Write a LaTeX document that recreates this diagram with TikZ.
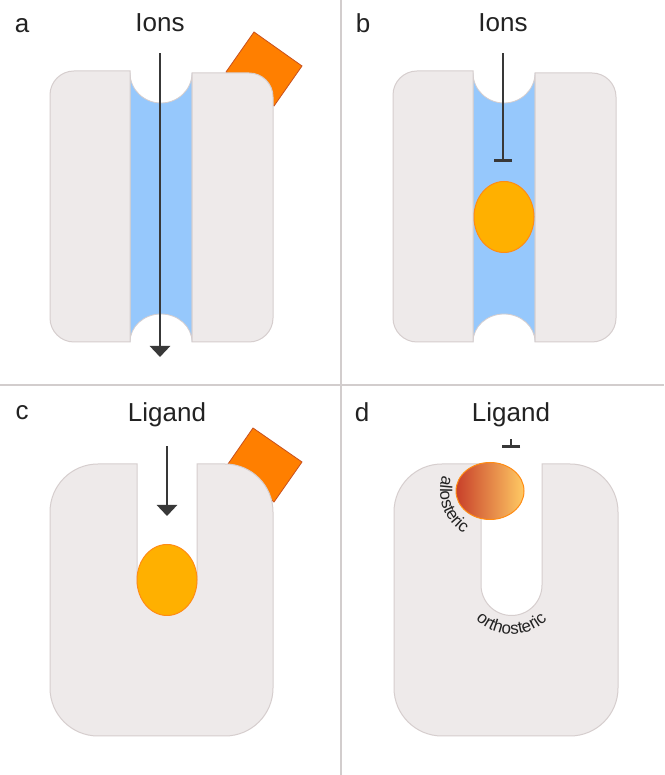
\documentclass[tikz,border=0pt]{standalone}
\usepackage{fontspec}
\setmainfont{Liberation Sans}
\usetikzlibrary{arrows.meta,shapes.geometric,decorations.text}

\definecolor{protein}{RGB}{238,234,234}
\definecolor{proteinedge}{RGB}{214,206,206}
\definecolor{poreblue}{RGB}{150,200,252}
\definecolor{drugorange}{RGB}{255,176,0}
\definecolor{drugedge}{RGB}{255,140,20}
\definecolor{tagorange}{RGB}{255,127,0}
\definecolor{tagedge}{RGB}{200,80,30}
\definecolor{allored}{RGB}{200,64,42}
\definecolor{alloyellow}{RGB}{255,202,100}
\definecolor{ink}{RGB}{34,34,34}
\definecolor{divider}{RGB}{210,205,205}

\begin{document}
\fontsize{17}{20}\selectfont
\begin{tikzpicture}[x=1pt,y=1pt,
  block/.style={fill=protein, draw=proteinedge, line width=1pt},
  channel/.style={fill=poreblue, draw=proteinedge, line width=0.8pt},
  tag/.style={fill=tagorange, draw=tagedge, line width=0.8pt},
  drug/.style={ellipse, fill=drugorange, draw=drugedge, line width=1pt, inner sep=0pt,
    minimum width=60pt, minimum height=71pt},
  lbl/.style={font=\fontsize{26}{30}\selectfont, text=ink, anchor=base},
  flow/.style={draw=ink!90, line width=2.8pt, -{Triangle[width=20pt,length=11pt]}},
  stop/.style={draw=ink!90, line width=2.8pt, -{Bar[width=18pt]}}]

\useasboundingbox (0,0) rectangle (664,775);
\fill[white] (0,0) rectangle (664,775);
\draw[divider, line width=1.5pt] (0,390) -- (664,390);
\draw[divider, line width=1.5pt] (341,0) -- (341,775);

% a
\node[lbl] (la) at (22,742) {a};
\node[lbl] (ionsa) at (160,743) {Ions};
\draw[tag] (254,743) -- (302,709) -- (274,669) -- (226,703) -- cycle;
\path[channel] (130,433) -- (130,702) arc (180:360:31 and 30) -- (192,433) arc (0:180:31 and 28) -- cycle;
\draw[block] (130,704) -- (74,704) arc (90:180:24) -- (50,457) arc (180:270:24) -- (130,433) -- cycle;
\draw[block] (192,702) -- (249,702) arc (90:0:24) -- (273,457) arc (0:-90:24) -- (192,433) -- cycle;
\coordinate (outa) at (160,418);
\draw[flow, shorten <=15pt] (ionsa) -- (outa);

% b
\begin{scope}[xshift=343pt]
\node[lbl] (lb) at (20,742) {b};
\node[lbl] (ionsb) at (160,743) {Ions};
\path[channel] (130,433) -- (130,702) arc (180:360:31 and 30) -- (192,433) arc (0:180:31 and 28) -- cycle;
\draw[block] (130,704) -- (74,704) arc (90:180:24) -- (50,457) arc (180:270:24) -- (130,433) -- cycle;
\draw[block] (192,702) -- (249,702) arc (90:0:24) -- (273,457) arc (0:-90:24) -- (192,433) -- cycle;
\node[drug] (drugb) at (161,558) {};
\coordinate (stopb) at (160,613);
\draw[stop, shorten <=15pt] (ionsb) -- (stopb);
\end{scope}

% c
\node[lbl] (lc) at (22,355) {c};
\node[lbl] (ligandc) at (167,353) {Ligand};
\draw[tag] (253,347) -- (302,313) -- (274,273) -- (228,311) -- cycle;
\draw[block] (137,311) -- (98,311) arc (90:180:48) -- (50,87) arc (180:270:48) -- (225,39)
  arc (270:360:48) -- (273,263) arc (0:90:48) -- (197,311) -- (197,195) arc (0:-180:30) -- cycle;
\node[drug] (drugc) at (167,195) {};
\coordinate (tipc) at (167,259);
\draw[flow, shorten <=13pt] (ligandc) -- (tipc);

% d
\node[lbl] (ld) at (362,353) {d};
\node[lbl] (ligandd) at (511,353) {Ligand};
\draw[block] (481,311) -- (442,311) arc (90:180:48) -- (394,87) arc (180:270:48) -- (570,39)
  arc (270:360:48) -- (618,263) arc (0:90:48) -- (542,311) -- (542,190) arc (0:-180:30.5) -- cycle;
\node[ellipse, inner sep=0pt, minimum width=68pt, minimum height=57pt, left color=allored,
  right color=alloyellow, draw=drugedge, line width=1pt] (allo) at (490,284) {};
\coordinate (stopd) at (511,327);
\draw[stop, shorten <=6pt] (ligandd) -- (stopd);
\path[decorate, decoration={text along path, text align=center, text color=ink,
  text={allosteric}}] (490,284) ++(150:50) arc (150:250:50);
\path[decorate, decoration={text along path, text align=center, text color=ink,
  text={orthosteric}}] (511.5,190.5) ++(210:50) arc (210:330:50);
\end{tikzpicture}
\end{document}
